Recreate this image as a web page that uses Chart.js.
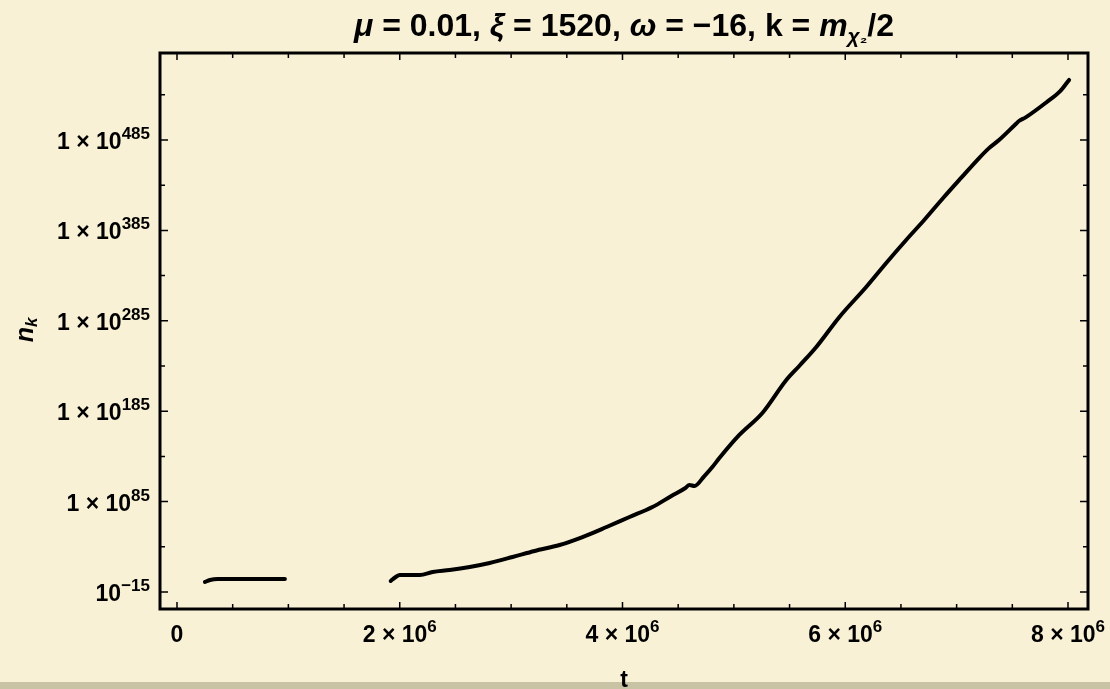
<!DOCTYPE html>
<html>
<head>
<meta charset="utf-8">
<script src="https://cdn.jsdelivr.net/npm/chart.js@4.4.1/dist/chart.umd.min.js"></script>
<style>
  html, body { margin: 0; padding: 0; }
  body { width: 1110px; height: 689px; background: #f9f1d5; position: relative; overflow: hidden; }
  #band { position: absolute; left: 0; right: 0; top: 682px; height: 7px; background: #c9c3a6; }
  #wrap { position: absolute; left: 0; top: 0; width: 1110px; height: 689px; }
</style>
</head>
<body>
<div id="band"></div>
<div id="wrap"><canvas id="chart" width="1110" height="689"></canvas></div>
<script>
// --- Data: t and log10(n_k) ---
const earlyT = [0.251e6, 0.296e6, 0.368e6, 0.6e6, 0.969e6];
const earlyLogN = [-3.9, -1.7, -0.6, -0.6, -0.6];

const lateT = [
  1.919e6, 1.964e6, 2.0e6, 2.18e6, 2.296e6, 2.448e6, 2.628e6, 2.807e6, 3.013e6, 3.211e6,
  3.435e6, 3.641e6, 3.857e6, 4.063e6, 4.269e6, 4.439e6, 4.565e6, 4.601e6, 4.646e6, 4.735e6,
  4.807e6, 4.870e6, 5.049e6, 5.256e6, 5.471e6, 5.587e6, 5.740e6, 5.946e6, 6.188e6, 6.368e6,
  6.547e6, 6.709e6, 6.879e6, 7.040e6, 7.202e6, 7.291e6, 7.381e6, 7.534e6, 7.560e6, 7.620e6,
  7.810e6, 7.930e6, 8.01e6
];
const lateLogN = [
  -2.8, 1.6, 3.8, 3.8, 7.1, 9.3, 12.7, 17.1, 23.7, 30.4,
  37, 45.8, 56.9, 68, 79, 91.2, 100, 103.4, 102.3, 113.3,
  123.3, 133.2, 158.7, 183, 219.5, 235, 256, 289, 322.4, 349,
  374.4, 396.5, 420.8, 443, 465, 476, 485, 503, 506, 510,
  527, 539, 551.4
];

// --- Axis ticks ---
const xMajorTicks = [0, 2e6, 4e6, 6e6, 8e6];
const xTickBase = ["0", "2×10", "4×10", "6×10", "8×10"];
const xTickSup = ["", "6", "6", "6", "6"];
const xMinorTicks = [0.5e6, 1e6, 1.5e6, 2.5e6, 3e6, 3.5e6, 4.5e6, 5e6, 5.5e6, 6.5e6, 7e6, 7.5e6];

const yMajorTicks = [-15, 85, 185, 285, 385, 485];
const yTickBase = ["10", "1×10", "1×10", "1×10", "1×10", "1×10"];
const yTickSup = ["−15", "85", "185", "285", "385", "485"];
const yMinorTicks = [35, 135, 235, 335, 435, 535];

const FONT = '"Liberation Sans", Arial, sans-serif';

// draw a run of text pieces: [text, font, dy]
function drawRich(ctx, parts, x, y, align) {
  let w = 0;
  parts.forEach(p => { ctx.font = p[1]; w += ctx.measureText(p[0]).width; });
  let cx = align === 'right' ? x - w : align === 'center' ? x - w / 2 : x;
  parts.forEach(p => {
    ctx.font = p[1];
    ctx.fillText(p[0], cx, y + (p[2] || 0));
    cx += ctx.measureText(p[0]).width;
  });
}

// --- Frame, inward ticks and labels in the Mathematica style ---
const framePlugin = {
  id: 'frame',
  afterDraw(chart) {
    const { ctx, chartArea: a, scales: { x, y } } = chart;
    ctx.save();
    ctx.strokeStyle = '#000';
    ctx.fillStyle = '#000';
    ctx.lineWidth = 1.5;
    ctx.beginPath();
    const xt = (v, len) => {
      const px = x.getPixelForValue(v);
      ctx.moveTo(px, a.bottom); ctx.lineTo(px, a.bottom - len);
      ctx.moveTo(px, a.top); ctx.lineTo(px, a.top + len);
    };
    const yt = (v, len) => {
      const py = y.getPixelForValue(v);
      ctx.moveTo(a.left, py); ctx.lineTo(a.left + len, py);
      ctx.moveTo(a.right, py); ctx.lineTo(a.right - len, py);
    };
    xMajorTicks.forEach(v => xt(v, 7));
    xMinorTicks.forEach(v => xt(v, 5));
    yMajorTicks.forEach(v => yt(v, 8));
    yMinorTicks.forEach(v => yt(v, 5));
    ctx.stroke();

    ctx.lineWidth = 3;
    ctx.strokeRect(a.left, a.top, a.right - a.left, a.bottom - a.top);

    const big = 'bold 23px ' + FONT;
    const sup = 'bold 17px ' + FONT;
    ctx.textBaseline = 'alphabetic';

    xMajorTicks.forEach((v, i) => {
      const px = x.getPixelForValue(v);
      const parts = [[xTickBase[i].replace('×', ' × '), big]];
      if (xTickSup[i]) parts.push([xTickSup[i], sup, -10]);
      drawRich(ctx, parts, px, 642, 'center');
    });

    yMajorTicks.forEach((v, i) => {
      const py = y.getPixelForValue(v);
      const parts = [[yTickBase[i].replace('×', ' × '), big], [yTickSup[i], sup, -10]];
      drawRich(ctx, parts, a.left - 10, py + 9, 'right');
    });

    // title
    const T = 'bold 32px ' + FONT;
    const TI = 'italic bold 32px ' + FONT;
    drawRich(ctx, [
      ['μ', TI], [' = 0.01, ', T], ['ξ', TI], [' = 1520, ', T], ['ω', TI],
      [' = −16, k = ', T], ['m', TI], ['χ', 'italic bold 21px ' + FONT, 7],
      ['₂', 'bold 17px ' + FONT, 7], ['/2', T]
    ], (a.left + a.right) / 2, 36, 'center');

    // axis labels
    drawRich(ctx, [['t', 'bold 23px ' + FONT]], (a.left + a.right) / 2, 687, 'center');
    ctx.translate(33, 330);
    ctx.rotate(-Math.PI / 2);
    drawRich(ctx, [['n', 'italic bold 25px ' + FONT], ['k', 'italic bold 17px ' + FONT, 4]], 0, 0, 'center');
    ctx.restore();
  }
};

const lineStyle = {
  borderColor: '#000',
  borderWidth: 4,
  pointRadius: 0,
  cubicInterpolationMode: 'monotone',
  borderJoinStyle: 'round',
  borderCapStyle: 'round',
  fill: false
};

new Chart(document.getElementById('chart').getContext('2d'), {
  type: 'line',
  data: {
    datasets: [
      { ...lineStyle, data: earlyT.map((t, i) => ({ x: t, y: earlyLogN[i] })) },
      { ...lineStyle, data: lateT.map((t, i) => ({ x: t, y: lateLogN[i] })) }
    ]
  },
  options: {
    responsive: false,
    animation: false,
    layout: { padding: { left: 160, right: 22, top: 53, bottom: 80 } },
    plugins: { legend: { display: false }, tooltip: { enabled: false } },
    scales: {
      x: { type: 'linear', display: false, min: -0.1526e6, max: 8.1796e6 },
      y: { type: 'linear', display: false, min: -33.8, max: 581.2 }
    }
  },
  plugins: [framePlugin]
});
</script>
</body>
</html>
